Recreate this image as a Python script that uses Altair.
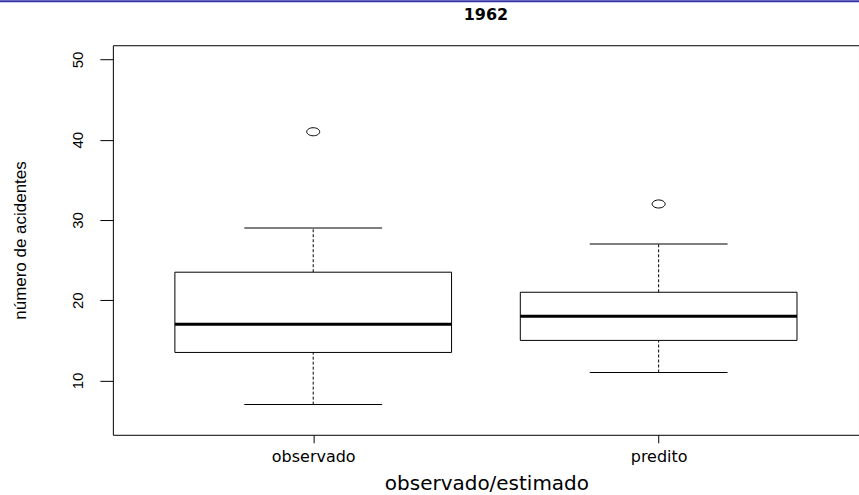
import altair as alt
import pandas as pd

# ---- data ----
groups = ["observado", "predito"]
lower_whisker = [7, 11]
q1 = [13.5, 15]
median = [17, 18]
q3 = [23.5, 21]
upper_whisker = [29, 27]
outliers = [41, 32]
y_ticks = [10, 20, 30, 40, 50]

df = pd.DataFrame({
    "grupo": groups,
    "lo": lower_whisker,
    "q1": q1,
    "med": median,
    "q3": q3,
    "hi": upper_whisker,
    "out": outliers,
})

NARROW = "Liberation Sans, Arial"
WIDE = "DejaVu Sans, Verdana, Liberation Sans"

W, H = 747, 390
LEFT, TOP = 113, 45

x_axis = alt.Axis(
    labelFont=WIDE, labelFontSize=16, labelColor="black",
    labelBaseline="alphabetic", labelPadding=19, labelAngle=0,
    tickSize=8, tickColor="black", tickWidth=1,
    titleFont=WIDE, titleFontSize=20, titleFontWeight="normal", titleColor="black",
    titleBaseline="alphabetic", titleY=55, titleX=W / 2 + 0.5,
    domain=False, grid=False,
)

y_axis = alt.Axis(
    values=y_ticks,
    labelFont=NARROW, labelFontSize=15, labelColor="black",
    labelAngle=270, labelAlign="center", labelBaseline="bottom", labelPadding=14,
    tickSize=13, tickColor="black", tickWidth=1,
    titleFont=NARROW, titleFontSize=17, titleFontWeight="normal", titleColor="black",
    titleAngle=270, titleAlign="center", titleBaseline="bottom",
    titleX=-83, titleY=H / 2,
    domain=False, grid=False,
)

xscale = alt.Scale(type="point", domain=groups, padding=0.58)
yscale = alt.Scale(domain=[3.24, 51.78], nice=False, zero=False)


def X():
    return alt.X("grupo:N", scale=xscale, axis=x_axis, title="observado/estimado")


def Y(field):
    return alt.Y(f"{field}:Q", scale=yscale, axis=y_axis, title="número de acidentes")


base = alt.Chart(df)

whisker_up = base.mark_rule(color="black", strokeWidth=1, strokeDash=[3, 2], opacity=1).encode(
    x=X(), y=Y("q3"), y2="hi:Q"
)
whisker_down = base.mark_rule(color="black", strokeWidth=1, strokeDash=[3, 2], opacity=1).encode(
    x=X(), y=Y("lo"), y2="q1:Q"
)
box = base.mark_bar(size=277, fill="white", stroke="black", strokeWidth=1, opacity=1).encode(
    x=X(), y=Y("q1"), y2="q3:Q"
)
med = base.mark_tick(size=277, thickness=3, color="black", orient="horizontal", opacity=1).encode(
    x=X(), y=Y("med")
)
cap_hi = base.mark_tick(size=138, thickness=1, color="black", orient="horizontal", opacity=1).encode(
    x=X(), y=Y("hi")
)
cap_lo = base.mark_tick(size=138, thickness=1, color="black", orient="horizontal", opacity=1).encode(
    x=X(), y=Y("lo")
)
ellipse = "M -1 0 A 1 0.62 0 1 0 1 0 A 1 0.62 0 1 0 -1 0 Z"
outl = base.mark_point(shape=ellipse, size=169, filled=False, stroke="black",
                       strokeWidth=1, opacity=1).encode(
    x=X(), y=Y("out")
)

# slide header band (decoration along the top edge)
band = alt.Chart(alt.Data(values=[{"a": 1}])).mark_rule(
    color="#3333aa", strokeWidth=2, clip=False
).encode(x=alt.value(-LEFT), x2=alt.value(W), y=alt.value(-TOP + 1))

chart = alt.layer(
    whisker_up, whisker_down, box, med, cap_hi, cap_lo, outl, band
).properties(
    width=W,
    height=H,
    background="white",
    padding={"left": LEFT, "top": TOP, "right": 0, "bottom": 60},
    autosize=alt.AutoSizeParams(type="none"),
    title=alt.Title("1962", font=WIDE, fontSize=16, fontWeight="bold", color="black",
                    anchor="middle", baseline="alphabetic", offset=-36),
).configure_view(
    stroke="black", strokeWidth=1
)

chart.save("out.html", embed_options={"renderer": "svg", "actions": False})
